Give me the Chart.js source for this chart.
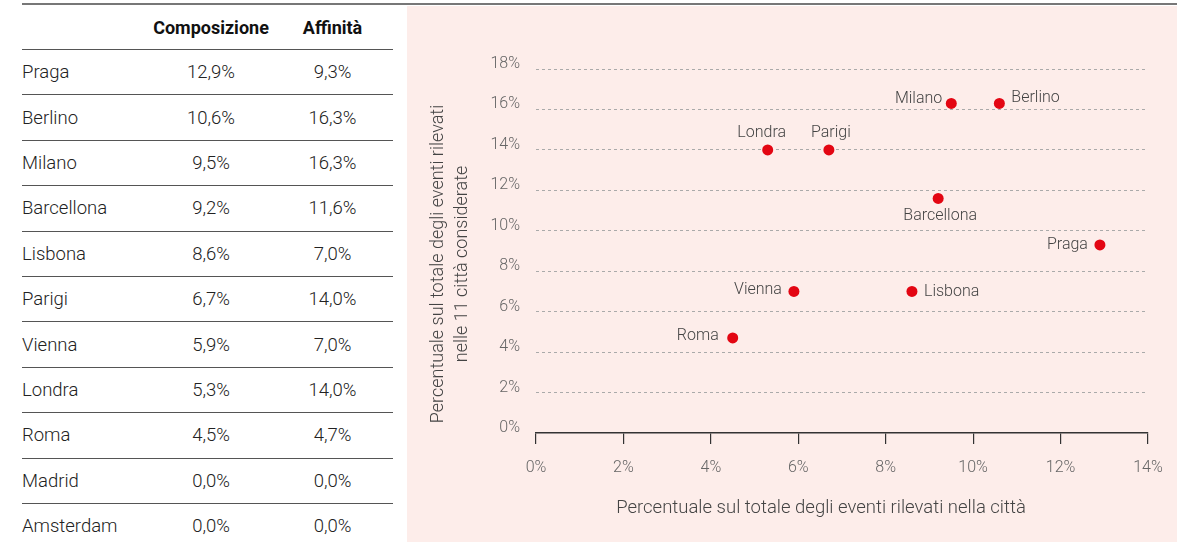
<!DOCTYPE html>
<html>
<head>
<meta charset="utf-8">
<script src="https://cdn.jsdelivr.net/npm/chart.js@4"></script>
<style>
  body { margin: 0; width: 1177px; height: 542px; background: #fff; overflow: hidden; font-family: Roboto, sans-serif; }
  #topline { position: absolute; left: 22px; top: 3px; width: 1155px; height: 2px; background: #777; }
  #panel { position: absolute; left: 407px; top: 6px; width: 770px; height: 536px; background: #fdedea; }
  #chart { position: absolute; left: 407px; top: 6px; }
  #tbl { position: absolute; left: 22px; top: 5px; width: 371px; color: #222; }
  .row { display: flex; align-items: center; height: 45.4px; box-sizing: border-box; border-top: 1px solid #555; font-size: 18.5px; font-weight: 300; }
  .row.head { height: 44px; border-top: none; font-weight: 700; font-size: 18px; color: #111; }
  .c0 { width: 128px; }
  .c1 { width: 122px; text-align: center; }
  .c2 { width: 121px; text-align: center; }
</style>
</head>
<body>
<div id="topline"></div>
<div id="tbl"></div>
<div id="panel"></div>
<canvas id="chart" width="770" height="536"></canvas>
<script>
// dati
const cities = ['Praga', 'Berlino', 'Milano', 'Barcellona', 'Lisbona', 'Parigi', 'Vienna', 'Londra', 'Roma', 'Madrid', 'Amsterdam'];
const composizione = [12.9, 10.6, 9.5, 9.2, 8.6, 6.7, 5.9, 5.3, 4.5, 0.0, 0.0];
const affinita = [9.3, 16.3, 16.3, 11.6, 7.0, 14.0, 7.0, 14.0, 4.7, 0.0, 0.0];
const xTicks = [0, 2, 4, 6, 8, 10, 12, 14];
const yTicks = [0, 2, 4, 6, 8, 10, 12, 14, 16, 18];

const fmt = v => v.toFixed(1).replace('.', ',') + '%';

// tabella
const tbl = document.getElementById('tbl');
let html = '<div class="row head"><div class="c0"></div><div class="c1">Composizione</div><div class="c2">Affinità</div></div>';
cities.forEach((c, i) => {
  html += '<div class="row"><div class="c0">' + c + '</div><div class="c1">' + fmt(composizione[i]) +
    '</div><div class="c2">' + fmt(affinita[i]) + '</div></div>';
});
tbl.innerHTML = html;

// etichette dei punti: [allineamento, dx, dy]
const labelPos = {
  Praga: ['right', -12, 0],
  Berlino: ['left', 12, -5],
  Milano: ['right', -9, -4],
  Barcellona: ['center', 2, 18],
  Lisbona: ['left', 12, 1],
  Parigi: ['center', 2, -17],
  Vienna: ['right', -12, -1],
  Londra: ['center', -6, -17],
  Roma: ['right', -14, -2]
};

const points = [];
const pointNames = [];
cities.forEach((c, i) => {
  if (composizione[i] > 0) {
    points.push({ x: composizione[i], y: affinita[i] });
    pointNames.push(c);
  }
});

const pointLabels = {
  id: 'pointLabels',
  afterDatasetsDraw(chart) {
    const ctx = chart.ctx;
    const meta = chart.getDatasetMeta(0);
    ctx.save();
    ctx.font = '300 16px Roboto';
    ctx.fillStyle = '#444';
    ctx.textBaseline = 'middle';
    meta.data.forEach((pt, i) => {
      const p = labelPos[pointNames[i]];
      ctx.textAlign = p[0];
      ctx.fillText(pointNames[i], pt.x + p[1], pt.y + p[2]);
    });
    ctx.restore();
  }
};

const axisTitles = {
  id: 'axisTitles',
  afterDraw(chart) {
    const ctx = chart.ctx;
    const a = chart.chartArea;
    ctx.save();
    ctx.fillStyle = '#444';
    ctx.font = '300 18.5px Roboto';
    ctx.textAlign = 'center';
    ctx.textBaseline = 'middle';
    ctx.fillText('Percentuale sul totale degli eventi rilevati nella città', (a.left + a.right) / 2 - 21, a.bottom + 75);
    ctx.font = '300 18px Roboto';
    ctx.translate(a.left - 98, (a.top + a.bottom) / 2 + 13);
    ctx.rotate(-Math.PI / 2);
    ctx.fillText('Percentuale sul totale degli eventi rilevati', 0, 0);
    ctx.fillText('nelle 11 città considerate', 0, 24);
    ctx.restore();
  }
};

new Chart(document.getElementById('chart'), {
  type: 'scatter',
  data: {
    datasets: [{
      data: points,
      backgroundColor: '#e30613',
      borderWidth: 0,
      pointRadius: 5.5
    }]
  },
  options: {
    responsive: false,
    animation: false,
    layout: { padding: { top: 63, right: 29, left: 0, bottom: 0 } },
    plugins: { legend: { display: false }, tooltip: { enabled: false } },
    scales: {
      x: {
        min: 0, max: 14,
        afterFit: s => { s.height = 109; },
        afterBuildTicks: s => { s.ticks = xTicks.map(v => ({ value: v })); },
        grid: { drawOnChartArea: false, drawTicks: true, tickLength: 11, color: '#333', tickColor: '#333', lineWidth: 1.2 },
        border: { display: true, color: '#333', width: 1.5 },
        ticks: { padding: 14, color: '#666', font: { family: 'Roboto', size: 16, weight: 300 }, callback: v => v + '%' }
      },
      y: {
        min: 0, max: 18,
        afterFit: s => { s.width = 129; },
        afterBuildTicks: s => { s.ticks = yTicks.map(v => ({ value: v })); },
        grid: { drawTicks: false, color: ctx => ctx.tick && ctx.tick.value === 0 ? 'rgba(0,0,0,0)' : '#aaa', lineWidth: 1 },
        border: { display: false, dash: [3, 3] },
        // seconda riga vuota: alza l'etichetta di qualche pixel sopra la griglia
        ticks: { padding: 16, color: '#666', font: { family: 'Roboto', size: 16, weight: 300, lineHeight: 0.625 }, callback: v => [v + '%', ''] }
      }
    }
  },
  plugins: [pointLabels, axisTitles]
});
</script>
</body>
</html>
